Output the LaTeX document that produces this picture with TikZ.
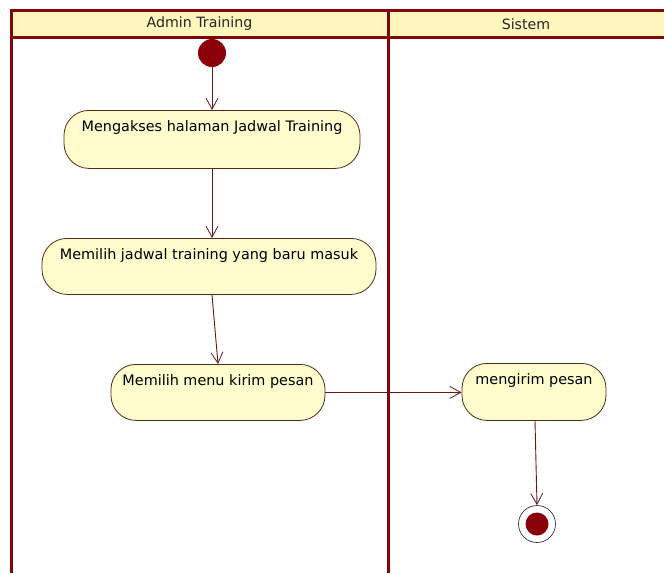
\documentclass[tikz,border=0pt]{standalone}
\usepackage{fontspec}
\setmainfont{DejaVu Sans}
\usetikzlibrary{arrows.meta,calc}
\definecolor{lane}{RGB}{125,8,8}
\definecolor{headfill}{RGB}{255,246,190}
\definecolor{actfill}{RGB}{255,252,205}
\definecolor{actline}{RGB}{90,40,20}
\definecolor{flow}{RGB}{110,20,20}
\definecolor{dot}{RGB}{140,0,10}
\tikzset{
  lanestroke/.style={draw=lane, line width=3pt},
  activity/.style={draw=actline, fill=actfill, line width=0.8pt, rounded corners=25pt,
    inner sep=0pt, font=\fontsize{14.4}{16}\selectfont, anchor=north,
    text height=21pt},
  flowline/.style={draw=flow, line width=0.9pt,
    -{Straight Barb[length=11pt,width=12pt,line width=0.8pt]}},
  lanetitle/.style={font=\fontsize{14.2}{16}\selectfont, text=black!85}
}
\begin{document}
\begin{tikzpicture}[x=1pt,y=-1pt]
  \useasboundingbox (0,0) rectangle (664,573);
  \fill[white] (0,0) rectangle (664,573);

  % swimlane header band and borders
  \fill[headfill] (11,10) rectangle (664,37);
  \draw[lanestroke] (664,10) -- (11,10) -- (11,573);
  \draw[lanestroke] (11,37) -- (664,37);
  \draw[lanestroke] (388,10) -- (388,573);
  \node[lanetitle] (laneA) at (199.5,24) {Admin Training};
  \node[lanetitle] (laneB) at (526,24) {Sistem};

  % initial node
  \node[circle, fill=dot, minimum size=28pt, inner sep=0pt] (init) at (212,53) {};

  % activities
  \node[activity, minimum width=296pt, text depth=37pt] (act1) at (212,110)
    {Mengakses halaman Jadwal Training};
  \node[activity, minimum width=334pt, text depth=35pt] (act2) at (209,238)
    {Memilih jadwal training yang baru masuk};
  \node[activity, minimum width=214pt, text depth=35pt] (act3) at (218,364)
    {Memilih menu kirim pesan};
  \node[activity, minimum width=144pt, text depth=36pt] (act4) at (534,363)
    {mengirim pesan};

  % final node
  \node[circle, draw=black!80, line width=0.7pt, fill=white, minimum size=37pt, inner sep=0pt] (final) at (537,524) {};
  \fill[dot] (final.center) circle (11.5pt);

  % control flows
  \draw[flowline] (init.south) -- (init.south |- act1.north);
  \draw[flowline] (act1.south -| init.south) -- (act2.north -| init.south);
  \draw[flowline] (act2.south) ++(3,0) coordinate (s2) (s2) -- (act3.north);
  \draw[flowline] (act3.east) -- (act4.west |- act3.east);
  \draw[flowline] (act4.south) ++(1,0) coordinate (s4) (s4) -- (final.north);
\end{tikzpicture}
\end{document}
